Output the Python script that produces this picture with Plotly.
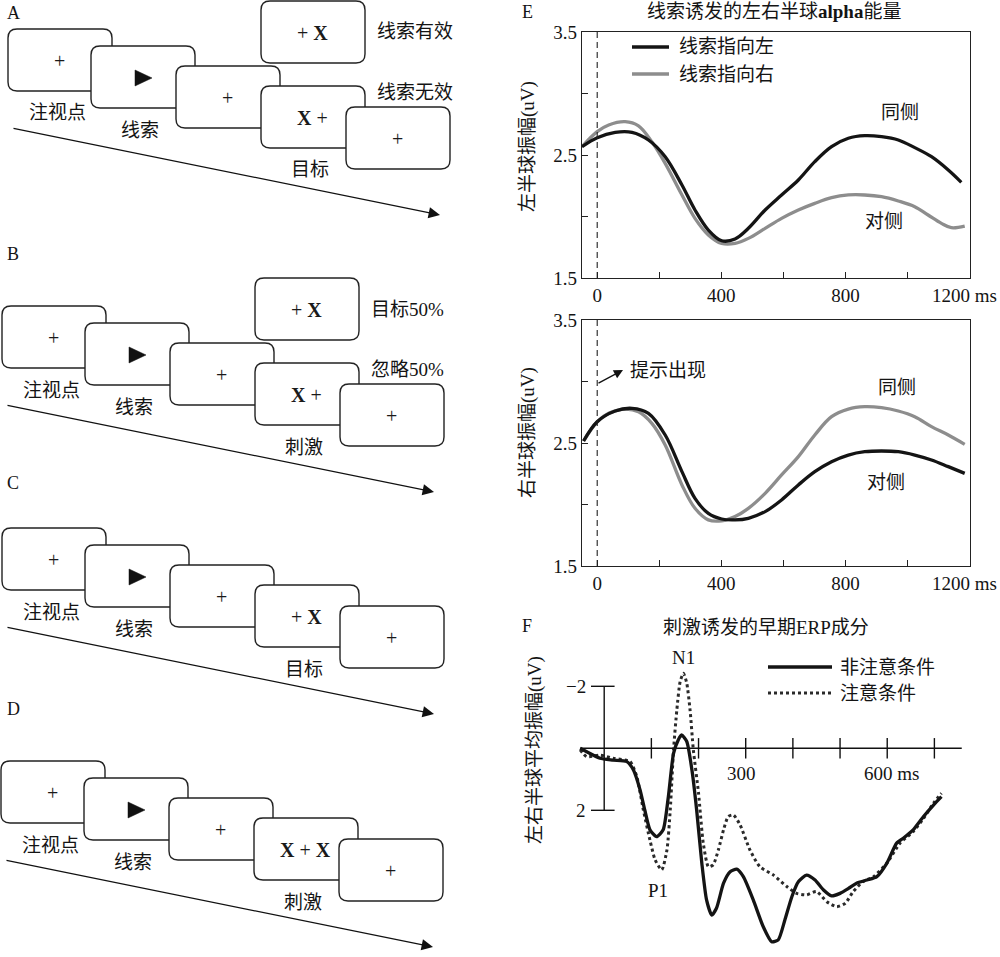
import plotly.graph_objects as go

W, H = 1000, 957

# ---------------- data ----------------
# Panel E (top): left-hemisphere alpha amplitude
E_TOP_CUE_LEFT_MS = [-49, 0, 58, 112, 165, 219, 273, 315, 358, 401, 444, 487, 541, 594, 648, 701, 755, 809, 862, 916, 970, 1023, 1077, 1131, 1173]
E_TOP_CUE_LEFT_UV = [2.568, 2.641, 2.684, 2.684, 2.622, 2.486, 2.256, 2.053, 1.890, 1.803, 1.817, 1.904, 2.053, 2.175, 2.297, 2.446, 2.568, 2.636, 2.657, 2.649, 2.622, 2.560, 2.486, 2.378, 2.278]
E_TOP_CUE_RIGHT_MS = [-49, 0, 37, 90, 133, 176, 219, 273, 315, 358, 401, 444, 487, 541, 594, 648, 701, 755, 809, 862, 916, 970, 1023, 1066, 1109, 1141, 1184]
E_TOP_CUE_RIGHT_UV = [2.568, 2.690, 2.744, 2.771, 2.737, 2.607, 2.432, 2.175, 1.985, 1.850, 1.781, 1.781, 1.822, 1.904, 1.985, 2.053, 2.107, 2.153, 2.175, 2.175, 2.161, 2.126, 2.080, 2.012, 1.944, 1.909, 1.922]

# Panel E (bottom): right-hemisphere alpha amplitude
E_BOT_CUE_RIGHT_MS = [-44, 0, 37, 90, 133, 176, 219, 273, 315, 358, 401, 444, 487, 541, 594, 648, 701, 755, 809, 862, 916, 970, 1023, 1077, 1131, 1184]
E_BOT_CUE_RIGHT_UV = [2.516, 2.673, 2.741, 2.776, 2.754, 2.660, 2.484, 2.159, 1.969, 1.875, 1.867, 1.902, 1.969, 2.091, 2.240, 2.389, 2.565, 2.714, 2.776, 2.795, 2.787, 2.760, 2.714, 2.633, 2.565, 2.489]
E_BOT_CUE_LEFT_MS = [-44, 0, 58, 112, 165, 219, 273, 315, 358, 401, 444, 487, 541, 594, 648, 701, 755, 809, 862, 916, 970, 1023, 1077, 1131, 1184]
E_BOT_CUE_LEFT_UV = [2.516, 2.673, 2.760, 2.782, 2.741, 2.565, 2.267, 2.050, 1.928, 1.882, 1.875, 1.888, 1.942, 2.037, 2.159, 2.267, 2.348, 2.402, 2.429, 2.435, 2.429, 2.402, 2.362, 2.308, 2.253]

E_XTICKS = [0, 200, 400, 600, 800, 1000, 1200]
E_XTICKTEXT = ["0", "", "400", "", "800", "", ""]
E_LAST_TICK_LABEL = "1200 ms"
E_YTICKS = [1.5, 2.0, 2.5, 3.0, 3.5]
E_YTICKTEXT = ["1.5", "", "2.5", "", "3.5"]

# Panel F: stimulus-evoked early ERP
F_UNATT_MS = [-51, -37, -9, 19, 48, 62, 76, 86, 97, 111, 125, 136, 147, 157, 164, 175, 186, 196, 207, 217, 228, 238, 253, 267, 281, 295, 316, 337, 355, 369, 383, 398, 412, 429, 447, 465, 482, 500, 518, 535, 557, 578, 599, 620, 634, 655, 677, 698, 715]
F_UNATT_UV = [0.0, 0.11, 0.32, 0.38, 0.43, 0.70, 1.34, 1.99, 2.63, 2.85, 2.63, 1.56, 0.16, -0.27, -0.43, -0.22, 0.70, 1.99, 3.71, 4.89, 5.38, 5.16, 4.35, 3.98, 3.90, 4.14, 4.89, 5.75, 6.24, 6.18, 5.54, 4.78, 4.30, 4.09, 4.25, 4.57, 4.76, 4.68, 4.52, 4.35, 4.25, 4.14, 3.71, 3.06, 2.90, 2.63, 2.20, 1.83, 1.56]
F_ATT_MS = [-51, -37, -9, 19, 55, 69, 83, 97, 108, 122, 133, 140, 147, 154, 161, 168, 175, 182, 189, 200, 210, 221, 231, 242, 253, 263, 274, 288, 309, 330, 359, 387, 408, 429, 450, 472, 493, 511, 528, 549, 571, 599, 627, 655, 677, 698, 715]
F_ATT_UV = [0.05, 0.27, 0.22, 0.32, 0.43, 0.91, 1.99, 2.96, 3.60, 3.92, 3.28, 1.99, 0.05, -1.24, -2.15, -2.42, -2.10, -1.24, 0.05, 1.45, 3.06, 3.82, 3.76, 3.28, 2.63, 2.20, 2.15, 2.47, 3.28, 3.82, 4.09, 4.46, 4.68, 4.73, 4.62, 4.95, 5.11, 5.00, 4.62, 4.30, 4.14, 3.71, 3.06, 2.69, 2.26, 1.77, 1.45]
F_XTICKS = [100, 200, 300, 400, 500, 600, 700]
F_XLABELS = {300: "300", 600: "600 ms"}
F_YTICKS = [-2, 2]
F_YTICKTEXT = ["−2", "2"]

# Left panels (paradigm diagrams)
PANELS = [
    dict(letter="A", origin=(8, 29), letter_pos=(13, 13),
         contents=["+", "TRI", "+", "<b>X</b> +", "+"], top="+ <b>X</b>",
         labels={0: "注视点", 1: "线索", 3: "目标"}, side_top="线索有效", side_mid="线索无效"),
    dict(letter="B", origin=(2, 306), letter_pos=(13, 254),
         contents=["+", "TRI", "+", "<b>X</b> +", "+"], top="+ <b>X</b>",
         labels={0: "注视点", 1: "线索", 3: "刺激"}, side_top="目标50%", side_mid="忽略50%"),
    dict(letter="C", origin=(2, 528), letter_pos=(13, 483),
         contents=["+", "TRI", "+", "+ <b>X</b>", "+"], top=None,
         labels={0: "注视点", 1: "线索", 3: "目标"}, side_top=None, side_mid=None),
    dict(letter="D", origin=(1, 761), letter_pos=(13, 709),
         contents=["+", "TRI", "+", "<b>X</b> + <b>X</b>", "+"], top=None,
         labels={0: "注视点", 1: "线索", 3: "刺激"}, side_top=None, side_mid=None),
]

# ---------------- helpers ----------------
def X(p):
    return p / W

def Y(p):
    return 1 - p / H

SERIF = "Liberation Serif, Noto Sans CJK SC, serif"
CJK = "Liberation Serif, Noto Sans CJK SC, sans-serif"
INK = "#141414"
GREY = "#8d8d8d"

shapes = []
annotations = []

def text(x, y, s, size=19, xanchor="center", yanchor="middle", family=CJK, angle=0, color=INK):
    annotations.append(dict(x=X(x), y=Y(y), xref="paper", yref="paper", text=s, showarrow=False,
                            xanchor=xanchor, yanchor=yanchor, textangle=angle,
                            font=dict(family=family, size=size, color=color)))

def rrect(x0, y0, w, h, r):
    x1, y1 = x0 + w, y0 + h
    pts = [
        ("M", [(x0 + r, y0)]), ("L", [(x1 - r, y0)]), ("Q", [(x1, y0), (x1, y0 + r)]),
        ("L", [(x1, y1 - r)]), ("Q", [(x1, y1), (x1 - r, y1)]), ("L", [(x0 + r, y1)]),
        ("Q", [(x0, y1), (x0, y1 - r)]), ("L", [(x0, y0 + r)]), ("Q", [(x0, y0), (x0 + r, y0)]),
    ]
    d = ""
    for cmd, ps in pts:
        d += cmd + " " + " ".join(f"{X(a):.5f},{Y(b):.5f}" for a, b in ps) + " "
    return d + "Z"

BOX_W, BOX_H, BOX_R = 104, 62, 9
STEPS = [(0, 0), (83, 17), (168, 37), (253, 57), (338, 78)]
TOP_STEP = (253, -28)

for P in PANELS:
    ox, oy = P["origin"]
    text(P["letter_pos"][0], P["letter_pos"][1], P["letter"], size=18, family=SERIF)
    boxes = []
    if P["top"]:
        boxes.append(((ox + TOP_STEP[0], oy + TOP_STEP[1]), P["top"]))
    for (dx, dy), c in zip(STEPS, P["contents"]):
        boxes.append(((ox + dx, oy + dy), c))
    for (bx, by), c in boxes:
        shapes.append(dict(type="path", path=rrect(bx, by, BOX_W, BOX_H, BOX_R), xref="paper", yref="paper",
                           fillcolor="white", line=dict(color="#222222", width=1.4), layer="above"))
        cx, cy = bx + BOX_W / 2, by + 32
        if c == "TRI":
            tri = f"M {X(cx-8):.5f},{Y(cy-8):.5f} L {X(cx+9):.5f},{Y(cy):.5f} L {X(cx-8):.5f},{Y(cy+8):.5f} Z"
            shapes.append(dict(type="path", path=tri, xref="paper", yref="paper",
                               fillcolor="#111111", line=dict(color="#111111", width=0.5), layer="above"))
        else:
            text(cx - 1, cy, c, size=20, family=SERIF, color="#1a1a1a")
    for idx, lab in P["labels"].items():
        dx, dy = STEPS[idx]
        text(ox + dx + BOX_W / 2 - 3, oy + dy + BOX_H + 22, lab, size=19)
    if P["side_top"]:
        text(ox + TOP_STEP[0] + 114, oy + TOP_STEP[1] + 31, P["side_top"], size=19, xanchor="left")
    if P["side_mid"]:
        text(ox + STEPS[3][0] + 114, oy + STEPS[3][1] + 6.5, P["side_mid"], size=19, xanchor="left")
    tx0, ty0 = ox + 4, oy + 99
    tx1, ty1 = ox + 432, oy + 186
    annotations.append(dict(x=X(tx1), y=Y(ty1), xref="paper", yref="paper", ax=tx0 - tx1, ay=ty0 - ty1,
                            axref="pixel", ayref="pixel", text="", showarrow=True, arrowhead=2,
                            arrowsize=1.9, arrowwidth=1.2, arrowcolor="#111111", standoff=0, startstandoff=0))

fig = go.Figure()

LW = 3.3
fig.add_trace(go.Scatter(x=E_TOP_CUE_RIGHT_MS, y=E_TOP_CUE_RIGHT_UV, mode="lines", name="线索指向右",
                         line=dict(color=GREY, width=LW, shape="spline", smoothing=1.0),
                         xaxis="x", yaxis="y", showlegend=False))
fig.add_trace(go.Scatter(x=E_TOP_CUE_LEFT_MS, y=E_TOP_CUE_LEFT_UV, mode="lines", name="线索指向左",
                         line=dict(color=INK, width=LW, shape="spline", smoothing=1.0),
                         xaxis="x", yaxis="y", showlegend=False))
fig.add_trace(go.Scatter(x=E_BOT_CUE_RIGHT_MS, y=E_BOT_CUE_RIGHT_UV, mode="lines", name="线索指向右",
                         line=dict(color=GREY, width=LW, shape="spline", smoothing=1.0),
                         xaxis="x2", yaxis="y2", showlegend=False))
fig.add_trace(go.Scatter(x=E_BOT_CUE_LEFT_MS, y=E_BOT_CUE_LEFT_UV, mode="lines", name="线索指向左",
                         line=dict(color=INK, width=LW, shape="spline", smoothing=1.0),
                         xaxis="x2", yaxis="y2", showlegend=False))
fig.add_trace(go.Scatter(x=F_ATT_MS, y=F_ATT_UV, mode="lines", name="注意条件",
                         line=dict(color="#2a2a2a", width=3, dash="dot", shape="spline", smoothing=0.6),
                         xaxis="x3", yaxis="y3", showlegend=False))
fig.add_trace(go.Scatter(x=F_UNATT_MS, y=F_UNATT_UV, mode="lines", name="非注意条件",
                         line=dict(color=INK, width=3.3, shape="spline", smoothing=0.6),
                         xaxis="x3", yaxis="y3", showlegend=False))

E_X_RANGE = [-49, 1201]
axis_style = dict(showline=True, mirror=True, linecolor="#222222", linewidth=1.2, ticks="inside",
                  ticklen=6, tickcolor="#222222", showgrid=False, zeroline=False, automargin=False,
                  tickfont=dict(family=SERIF, size=19, color=INK))

layout = dict(
    template="none",
    width=W, height=H, margin=dict(l=0, r=0, t=0, b=0, pad=0), autosize=False,
    paper_bgcolor="white", plot_bgcolor="rgba(0,0,0,0)", showlegend=False,
    xaxis=dict(domain=[X(582), X(970)], range=E_X_RANGE, anchor="y", tickvals=E_XTICKS, ticktext=E_XTICKTEXT, **axis_style),
    yaxis=dict(domain=[Y(278), Y(32)], range=[1.5, 3.5], anchor="x", tickvals=E_YTICKS, ticktext=E_YTICKTEXT, **axis_style),
    xaxis2=dict(domain=[X(582), X(970)], range=E_X_RANGE, anchor="y2", tickvals=E_XTICKS, ticktext=E_XTICKTEXT, **axis_style),
    yaxis2=dict(domain=[Y(566), Y(320)], range=[1.5, 3.5], anchor="x2", tickvals=E_YTICKS, ticktext=E_YTICKTEXT, **axis_style),
    xaxis3=dict(domain=[X(560), X(980)], range=[(560 - 604.2) / 0.4717, (980 - 604.2) / 0.4717], anchor="y3",
                visible=False, automargin=False),
    yaxis3=dict(domain=[Y(957), Y(640)], range=[(957 - 748.3) / 31, (640 - 748.3) / 31], anchor="x3",
                visible=False, automargin=False),
)

for xr, yr in (("x", "y domain"), ("x2", "y2 domain")):
    shapes.append(dict(type="line", xref=xr, yref=yr, x0=0, x1=0, y0=0, y1=1,
                       line=dict(color="#222222", width=1.1, dash="6px,4px")))

# last x tick label of both E panels (kept inside the page edge)
for yr in ("y domain", "y2 domain"):
    annotations.append(dict(x=1.0, xref="paper", y=0, yref=yr, text=E_LAST_TICK_LABEL, showarrow=False,
                            xanchor="right", yanchor="top", yshift=-5, xshift=-1,
                            font=dict(family=SERIF, size=19, color=INK)))

# E texts
text(527, 12, "E", size=18, family=SERIF)
text(774, 12, "线索诱发的左右半球<b>alpha</b>能量", size=19)
text(528, 147, "左半球振幅(uV)", size=19, angle=-90)
text(528, 433, "右半球振幅(uV)", size=19, angle=-90)
text(900, 113, "同侧", size=19)
text(884, 221, "对侧", size=19)
text(897, 388, "同侧", size=19)
text(886, 482, "对侧", size=19)
for yy, col, lab in ((47, INK, "线索指向左"), (74, GREY, "线索指向右")):
    shapes.append(dict(type="line", xref="paper", yref="paper", x0=X(632), x1=X(669), y0=Y(yy), y1=Y(yy),
                       line=dict(color=col, width=3.3)))
    text(677, yy, lab, size=19, xanchor="left")
annotations.append(dict(x=X(623), y=Y(370), xref="paper", yref="paper", ax=-26, ay=14, axref="pixel", ayref="pixel",
                        text="", showarrow=True, arrowhead=2, arrowsize=1.4, arrowwidth=1.3,
                        arrowcolor="#111111", standoff=0))
text(628, 370, "提示出现", size=19, xanchor="left")

# F axes drawn at the data origin
shapes.append(dict(type="line", xref="x3", yref="y3", x0=-51, x1=758, y0=0, y1=0, line=dict(color="#111111", width=1.4)))
shapes.append(dict(type="line", xref="x3", yref="y3", x0=0, x1=0, y0=F_YTICKS[0], y1=F_YTICKS[-1], line=dict(color="#111111", width=1.4)))
for v, t in zip(F_YTICKS, F_YTICKTEXT):
    shapes.append(dict(type="line", xref="x3", yref="y3", x0=-28, x1=22, y0=v, y1=v, line=dict(color="#111111", width=1.4)))
    annotations.append(dict(x=-34, y=v, xref="x3", yref="y3", text=t, showarrow=False, xanchor="right", yanchor="middle",
                            font=dict(family=SERIF, size=19, color=INK)))
for v in F_XTICKS:
    shapes.append(dict(type="line", xref="x3", yref="y3", x0=v, x1=v, y0=-0.33, y1=0.33, line=dict(color="#111111", width=1.4)))
for v, t in F_XLABELS.items():
    annotations.append(dict(x=v, y=0.82, xref="x3", yref="y3", text=t, showarrow=False, xanchor="center", yanchor="middle",
                            xshift=(-4 if v == 300 else 4), font=dict(family=SERIF, size=19, color=INK)))
annotations.append(dict(x=168, y=min(F_ATT_UV), xref="x3", yref="y3", text="N1", showarrow=False, xanchor="center",
                        yanchor="bottom", yshift=3, font=dict(family=SERIF, size=19, color=INK)))
annotations.append(dict(x=115, y=max(F_ATT_UV[:12]), xref="x3", yref="y3", text="P1", showarrow=False, xanchor="center",
                        yanchor="top", yshift=-8, font=dict(family=SERIF, size=19, color=INK)))
text(527, 626, "F", size=18, family=SERIF)
text(766, 627, "刺激诱发的早期ERP成分", size=19)
text(535, 750, "左右半球平均振幅(uV)", size=19, angle=-90)
shapes.append(dict(type="line", xref="paper", yref="paper", x0=X(768), x1=X(832), y0=Y(667), y1=Y(667),
                   line=dict(color=INK, width=3.6)))
shapes.append(dict(type="line", xref="paper", yref="paper", x0=X(768), x1=X(832), y0=Y(693), y1=Y(693),
                   line=dict(color="#2a2a2a", width=3, dash="dot")))
text(838, 667, "非注意条件", size=19, xanchor="left")
text(838, 693, "注意条件", size=19, xanchor="left")

layout["shapes"] = shapes
layout["annotations"] = annotations
fig.update_layout(**layout)
fig.write_html("out.html", config={"displayModeBar": False},
               post_script="document.body.style.margin='0px';document.body.style.overflow='hidden';")
